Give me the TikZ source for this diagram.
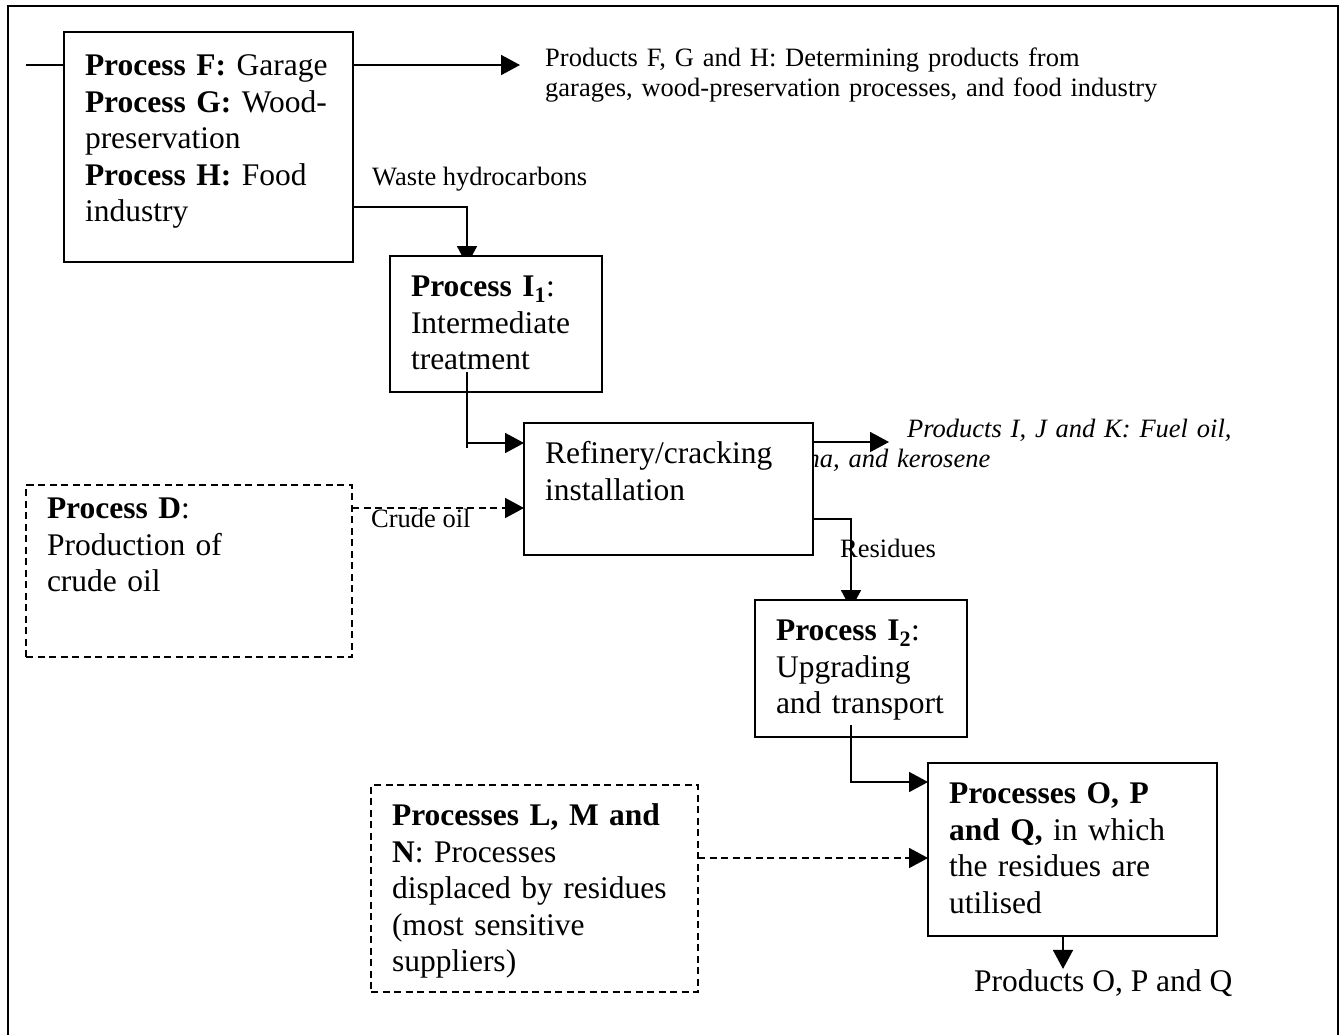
\documentclass[tikz,border=0pt]{standalone}
\usepackage{fontspec}
\setmainfont{Liberation Serif}
\usetikzlibrary{
  arrows.meta,
  backgrounds
}
\newcommand{\boxfont}{\fontsize{31.5}{36.5}\selectfont}
\newcommand{\notefont}{\fontsize{26.5}{30.5}\selectfont}

\begin{document}
\begin{tikzpicture}[
      x=1pt, y=-1pt,
      procbox/.style={
        rectangle, draw, line width=2pt, fill=white,
        anchor=north west, outer sep=0pt,
        inner xsep=21pt, inner ysep=17.5pt, text height=23pt,
        align=left, font=\boxfont
      },
      dashbox/.style={procbox, dash pattern=on 7pt off 4.5pt},
      note/.style={anchor=base west, inner sep=0pt, align=left, font=\notefont},
      arrow/.style={-{Triangle[length=19pt, width=20pt]}, line width=1.8pt},
      dasharrow/.style={arrow, dash pattern=on 7pt off 4.5pt}
    ]
      \useasboundingbox (0,0) rectangle (1343,1034);
      \clip (0,0) rectangle (1343,1034);
      \draw[line width=2.7pt] (8,6) rectangle (1338,1060);

      % refinery products, partly hidden by the refinery box
      \node[note, text width=490pt, font=\notefont\itshape] (prodIJK) at (746,437)
        {\hspace*{161pt}Products I, J and K: Fuel oil,\\naphtha, and kerosene};

      \node[procbox, text width=247pt, text height=26pt, text depth=169pt] (procF) at (64,32) {
        \textbf{Process F:} Garage\\
        \textbf{Process G:} Wood-\\
        preservation\\
        \textbf{Process H:} Food\\
        industry
      };
      \node[procbox, text width=170pt, text depth=78pt] (procI1) at (390,256) {
        \textbf{Process I\textsubscript{1}}:\\
        Intermediate\\
        treatment
      };
      \node[procbox, text width=247pt, text depth=74pt] (refinery) at (524,423) {
        Refinery/cracking\\
        installation
      };
      \node[dashbox, text width=284pt, text height=16pt, text depth=121pt] (procD) at (26,485) {
        \textbf{Process D}:\\
        Production of\\
        crude oil
      };
      \node[procbox, text width=170pt, text depth=79pt] (procI2) at (755,600) {
        \textbf{Process I\textsubscript{2}}:\\
        Upgrading\\
        and transport
      };
      \node[dashbox, text width=285pt, text depth=149pt] (procLMN) at (371,785) {
        \textbf{Processes L, M and}\\
        \textbf{N}: Processes\\
        displaced by residues\\
        (most sensitive\\
        suppliers)
      };
      \node[procbox, text width=247pt, text depth=115pt] (procOPQ) at (928,763) {
        \textbf{Processes O, P}\\
        \textbf{and Q,} in which\\
        the residues are\\
        utilised
      };

      \node[note, text width=620pt] (prodFGH) at (545,66)
        {Products F, G and H: Determining products from\\garages, wood-preservation processes, and food industry};
      \node[note] (waste) at (372,185) {Waste hydrocarbons};
      \node[note] (crude) at (371,527) {Crude oil};
      \node[note] (residues) at (840,557) {Residues};
      \node[note, font=\boxfont] (prodOPQ) at (974,991) {Products O, P and Q};

      \coordinate (stub) at (26,65);
      \coordinate (fghin) at (520,65);
      \coordinate (ijkin) at (889,442);
      \coordinate (i1out) at ([xshift=77pt, yshift=20pt]procI1.south west);

      \draw[line width=1.8pt] (stub) -- (stub -| procF.west);
      \draw[arrow] (stub -| procF.east) -- (fghin);
      \draw[arrow] ([yshift=-19pt]refinery.north east) -- (ijkin);
      \draw[dasharrow] ([yshift=-23pt]procD.north east) -- ([yshift=-23pt]procD.north east -| refinery.west);
      \draw[line width=1.8pt] (i1out) -- ([yshift=-25pt]refinery.north west -| i1out);
      \draw[arrow] (i1out) |- ([yshift=-20pt]refinery.north west);
      \draw[arrow] ([xshift=96pt, yshift=12pt]procI2.south west) |- ([yshift=-19pt]procOPQ.north west);
      \draw[dasharrow] ([yshift=-73pt]procLMN.north east) -- ([yshift=-73pt]procLMN.north east -| procOPQ.west);
      \draw[arrow] ([xshift=135pt]procOPQ.south west) -- ([xshift=135pt]procOPQ.south west |- prodOPQ.north);

      % tips of these two run under the boxes
      \begin{scope}[on background layer]
        \draw[arrow, shorten >=-9pt] ([yshift=-175pt]procF.north east) -| ([xshift=77pt]procI1.north west);
        \draw[arrow, shorten >=-9pt] ([yshift=-96pt]refinery.north east) -| ([xshift=96pt]procI2.north west);
      \end{scope}
    \end{tikzpicture}
\end{document}
